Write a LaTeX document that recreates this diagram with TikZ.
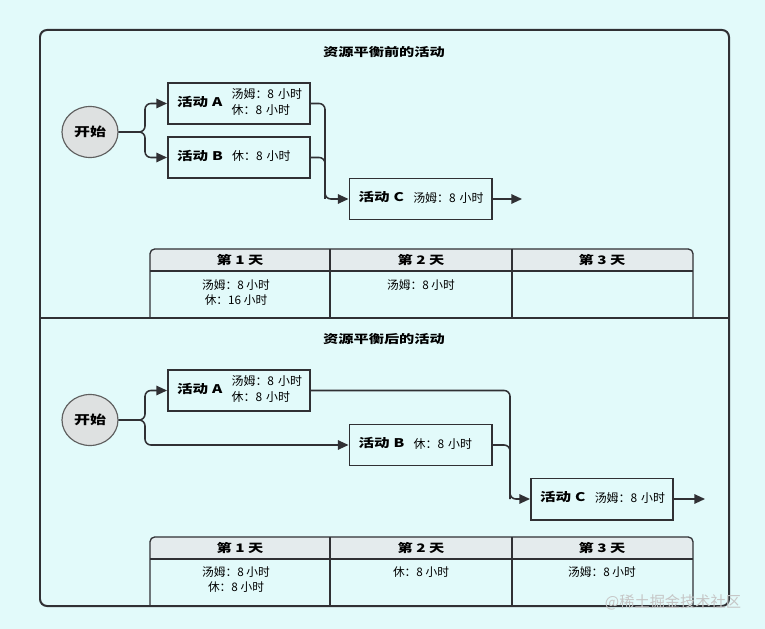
\documentclass[tikz,border=0pt]{standalone}
\usepackage{fontspec}
\setmainfont{Noto Sans CJK SC}[BoldFeatures={FakeStretch=1.3}]
\usetikzlibrary{arrows.meta,shapes.geometric}

\definecolor{bgcyan}{RGB}{226,250,250}
\definecolor{framegray}{RGB}{48,48,52}
\definecolor{headgray}{RGB}{228,235,237}
\definecolor{startgray}{RGB}{222,225,225}

\newcommand\actlabel[2]{\mbox{\hspace*{0.15cm}{\bfseries #1}\hspace{0.28cm}\begin{tabular}[c]{@{}l@{}}#2\end{tabular}}}

\tikzset{
	conn/.style={draw=framegray, line width=1.3pt, rounded corners=5pt},
	arrowtip/.style={-{Triangle[length=9pt,width=8pt]}},
	actbox/.style={draw=framegray, line width=1.7pt, minimum height=1.23cm, text width=4.02cm,
			inner xsep=0.12cm, inner ysep=0pt, align=left, font=\fontsize{10.2}{13.6}\selectfont},
	startnode/.style={ellipse, draw=gray!75!black, fill=startgray, line width=1pt, minimum width=1.68cm,
			minimum height=1.53cm, inner sep=0pt, font=\fontsize{10.5}{12}\selectfont\bfseries},
	paneltitle/.style={font=\fontsize{10}{12}\selectfont\bfseries},
	headtext/.style={font=\fontsize{10}{12}\selectfont\bfseries},
	celltext/.style={anchor=north, inner sep=0pt, align=center, font=\fontsize{10}{12.8}\selectfont},
	tabline/.style={draw=framegray, line width=1.1pt},
	wmark/.style={text=gray!45, font=\fontsize{13}{14}\selectfont}
}

\begin{document}
\begin{tikzpicture}[x=0.03cm, y=-0.03cm]
	\fill[bgcyan] (0,0) rectangle (765,629);

	% Tables under each panel
	\foreach \i/\ty in {1/249, 2/537}{
			\fill[headgray] (150,\ty+22) [rounded corners=4pt] |- (421,\ty) -| (693,\ty+22) [sharp corners] -- cycle;
			\draw[tabline, rounded corners=4pt] (150,\ty+69) |- (421,\ty) -| (693,\ty+69);
			\draw[tabline] (150,\ty+22) -- (693,\ty+22);
			\foreach \x in {330,512}{
					\draw[tabline] (\x,\ty) -- (\x,\ty+69);
				}
			\foreach \c/\cx in {1/240,2/421,3/602}{
					\node[headtext] (h-\i-\c) at (\cx,\ty+11) {第 \c{} 天};
				}
		}
	\node[celltext] (d-1-1) at (236,279) {汤姆：8 小时\\休：16 小时};
	\node[celltext] (d-1-2) at (421,279) {汤姆：8 小时};
	\node[celltext] (d-2-1) at (236,566) {汤姆：8 小时\\休：8 小时};
	\node[celltext] (d-2-2) at (421,566) {休：8 小时};
	\node[celltext] (d-2-3) at (602,566) {汤姆：8 小时};

	\draw[framegray, line width=1.7pt, rounded corners=6pt] (40,30) rectangle (729,606);
	\draw[framegray, line width=1.4pt] (40,318) -- (729,318);

	\node[paneltitle] (t-1) at (384,52) {资源平衡前的活动};
	\node[paneltitle] (t-2) at (384,339) {资源平衡后的活动};

	% Before levelling
	\node[startnode] (st-1) at (90,132) {开始};
	\node[actbox] (a-1) at (239,103.5) {\actlabel{活动 A}{汤姆：8 小时\\休：8 小时}};
	\node[actbox] (b-1) at (239,157.5) {\actlabel{活动 B}{休：8 小时}};
	\node[actbox] (c-1) at (420.5,199) {\actlabel{活动 C}{汤姆：8 小时}};
	\coordinate (j-1) at (145,132);
	\coordinate (k-1) at (325,199);
	\coordinate (e-1) at (522,199);

	\draw[conn, arrowtip] (st-1.east) -- (j-1) |- (a-1.west);
	\draw[conn, arrowtip] (st-1.east) -- (j-1) |- (b-1.west);
	\draw[conn, arrowtip] (a-1.east) -| (k-1) -- (c-1.west);
	\draw[conn] (b-1.east) -| (k-1);
	\draw[conn, arrowtip] (c-1.east) -- (e-1);

	% After levelling
	\node[startnode] (st-2) at (90,420) {开始};
	\node[actbox] (a-2) at (239,390.5) {\actlabel{活动 A}{汤姆：8 小时\\休：8 小时}};
	\node[actbox] (b-2) at (420.5,445) {\actlabel{活动 B}{休：8 小时}};
	\node[actbox] (c-2) at (602,499) {\actlabel{活动 C}{汤姆：8 小时}};
	\coordinate (j-2) at (145,420);
	\coordinate (k-2) at (510,499);
	\coordinate (e-2) at (705,499);

	\draw[conn, arrowtip] (st-2.east) -- (j-2) |- (a-2.west);
	\draw[conn, arrowtip] (st-2.east) -- (j-2) |- (b-2.west);
	\draw[conn, arrowtip] (a-2.east) -| (k-2) -- (c-2.west);
	\draw[conn] (b-2.east) -| (k-2);
	\draw[conn, arrowtip] (c-2.east) -- (e-2);

	\node[wmark] (wm) at (673,602) {@稀土掘金技术社区};
\end{tikzpicture}
\end{document}
